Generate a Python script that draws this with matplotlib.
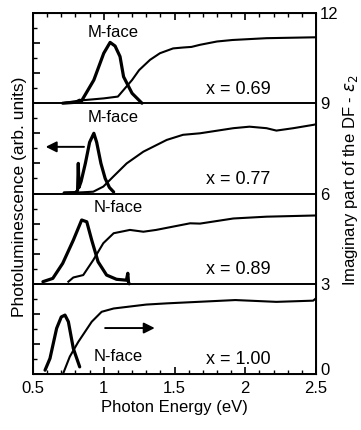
import numpy as np
import matplotlib
matplotlib.use("Agg")
import matplotlib.pyplot as plt
import matplotlib.transforms as mtransforms
from matplotlib.ticker import MultipleLocator, FuncFormatter

plt.rcParams["font.family"] = ["Liberation Sans", "DejaVu Sans"]
plt.rcParams["font.size"] = 12

# panel baselines (right axis units)
baselines = [9, 6, 3, 0]
compositions = ["x = 0.69", "x = 0.77", "x = 0.89", "x = 1.00"]
faces = ["M-face", "M-face", "N-face", "N-face"]

# photoluminescence (thick lines), values read on the right axis scale
pl_069_e = [0.71, 0.80, 0.83, 0.84, 0.93, 1.00, 1.045, 1.08, 1.115, 1.14, 1.20, 1.27]
pl_069_v = [9.0, 9.03, 9.1, 9.05, 9.77, 10.66, 11.02, 10.9, 10.55, 9.88, 9.33, 9.0]

pl_077_e = [0.72, 0.80, 0.815, 0.82, 0.825, 0.84, 0.87, 0.90, 0.93, 0.95, 0.98, 1.01, 1.04, 1.07]
pl_077_v = [6.02, 6.03, 6.1, 7.0, 6.2, 6.4, 7.0, 7.7, 8.0, 7.7, 7.0, 6.5, 6.2, 6.05]

pl_089_e = [0.57, 0.64, 0.71, 0.785, 0.844, 0.88, 0.915, 0.96, 1.02, 1.09, 1.16, 1.17, 1.175, 1.18]
pl_089_v = [3.07, 3.18, 3.68, 4.45, 5.12, 5.06, 4.45, 3.73, 3.29, 3.15, 3.12, 3.35, 3.05, 3.0]

pl_100_e = [0.585, 0.62, 0.667, 0.70, 0.726, 0.75, 0.785, 0.83]
pl_100_v = [0.13, 0.52, 1.52, 1.90, 1.96, 1.74, 0.85, 0.24]

# imaginary part of the dielectric function (thin lines)
eps_069_e = [0.73, 0.855, 1.0, 1.10, 1.16, 1.20, 1.25, 1.327, 1.397, 1.49, 1.56, 1.62, 1.68, 1.80, 1.91, 2.15, 2.5]
eps_069_v = [9.02, 9.1, 9.16, 9.22, 9.55, 9.77, 10.1, 10.44, 10.66, 10.82, 10.85, 10.87, 10.94, 11.05, 11.1, 11.16, 11.19]

eps_077_e = [0.73, 0.85, 0.926, 0.997, 1.067, 1.162, 1.28, 1.445, 1.56, 1.68, 1.916, 2.03, 2.15, 2.22, 2.34, 2.48, 2.5]
eps_077_v = [6.02, 6.04, 6.06, 6.23, 6.56, 7.0, 7.39, 7.78, 7.95, 8.0, 8.17, 8.22, 8.17, 8.09, 8.17, 8.28, 8.3]

eps_089_e = [0.75, 0.785, 0.855, 0.926, 0.997, 1.07, 1.185, 1.28, 1.37, 1.61, 1.68, 1.916, 2.15, 2.5]
eps_089_v = [3.07, 3.21, 3.29, 3.79, 4.35, 4.68, 4.79, 4.73, 4.79, 5.01, 5.0, 5.17, 5.23, 5.27]

eps_100_e = [0.714, 0.76, 0.82, 0.915, 0.985, 1.07, 1.30, 1.445, 1.93, 2.22, 2.48, 2.5]
eps_100_v = [0.03, 0.58, 1.07, 1.74, 2.07, 2.18, 2.31, 2.35, 2.46, 2.40, 2.44, 2.52]

pl_curves = [(pl_069_e, pl_069_v), (pl_077_e, pl_077_v), (pl_089_e, pl_089_v), (pl_100_e, pl_100_v)]
eps_curves = [(eps_069_e, eps_069_v), (eps_077_e, eps_077_v), (eps_089_e, eps_089_v), (eps_100_e, eps_100_v)]

fig = plt.figure(figsize=(3.61, 4.30), dpi=100)
ax = fig.add_axes([0.0914, 0.130, 0.7840, 0.840])

for (e, v) in pl_curves:
    ax.plot(e, v, color="black", lw=2.3, solid_capstyle="round")
for (e, v) in eps_curves:
    ax.plot(e, v, color="black", lw=1.5)

for b in baselines[:3]:
    ax.axhline(b, color="black", lw=1.4)

face_pos = [(1.065, 11.34), (1.065, 8.51), (1.10, 5.52), (1.10, 0.6)]
for (fx, fy), name in zip(face_pos, faces):
    ax.text(fx, fy, name, ha="center", va="center")
for b, lab in zip(baselines, compositions):
    ax.text(1.95, b + 0.47, lab, ha="center", va="center", fontsize=13)

# arrows pointing to the relevant axis
ax.annotate("", xy=(0.57, 7.55), xytext=(0.88, 7.55),
            arrowprops=dict(arrowstyle="-|>", color="black", lw=1.4, mutation_scale=16))
ax.annotate("", xy=(1.38, 1.53), xytext=(0.99, 1.53),
            arrowprops=dict(arrowstyle="-|>", color="black", lw=1.4, mutation_scale=16))

ax.set_xlim(0.5, 2.5)
ax.set_ylim(0, 12)
ax.xaxis.set_major_locator(MultipleLocator(0.5))
ax.xaxis.set_minor_locator(MultipleLocator(0.1))
ax.xaxis.set_major_formatter(FuncFormatter(lambda v, p: "%g" % v))
ax.yaxis.set_major_locator(MultipleLocator(1))
ax.yaxis.set_minor_locator(MultipleLocator(0.5))
ax.tick_params(which="both", direction="in", top=True, right=True, labelleft=False)
ax.tick_params(which="major", length=5, width=1.2)
ax.tick_params(which="minor", length=3, width=1.0)
ax.tick_params(axis="x", which="major", pad=5)
for s in ax.spines.values():
    s.set_linewidth(1.4)

ax2 = ax.twinx()
ax2.set_ylim(0, 12)
ax2.yaxis.set_major_locator(MultipleLocator(3))
ax2.tick_params(direction="in", length=0, pad=3)

# lift the "0" on the right a little so it clears the "2.5" below it
fig.canvas.draw()
lift = mtransforms.ScaledTranslation(0, 4 / 72, fig.dpi_scale_trans)
for lbl in ax2.get_yticklabels():
    if lbl.get_text() == "0":
        lbl.set_transform(lbl.get_transform() + lift)

ax.set_xlabel("Photon Energy (eV)", labelpad=3)
fig.text(20 / 361, 1 - 197 / 430, "Photoluminescence (arb. units)",
         rotation=90, ha="center", va="center", fontsize=12.5)
fig.text(350 / 361, 1 - 180 / 430, "Imaginary part of the DF - $\\varepsilon_2$",
         rotation=90, ha="center", va="center", fontsize=12)

fig.savefig("out.png", dpi=100)
